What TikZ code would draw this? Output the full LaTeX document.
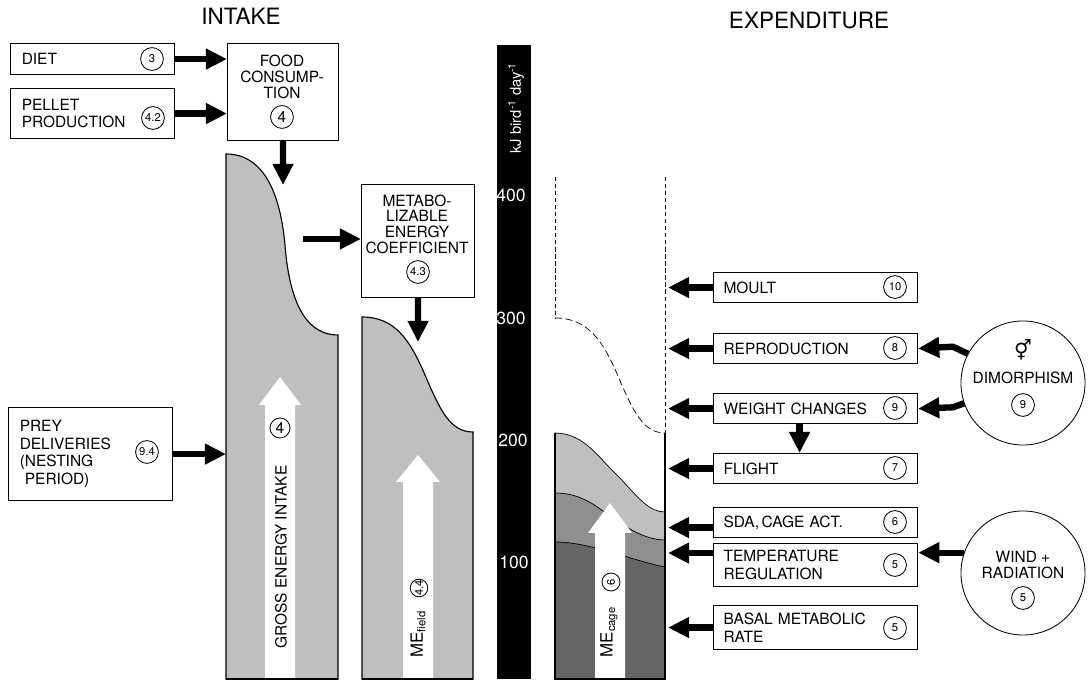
\documentclass[tikz,border=0pt]{standalone}
\usepackage{fontspec}
\setmainfont{TeX Gyre Heros}
\newfontfamily\symfont{DejaVu Sans}
\usepackage{xcolor}
\usetikzlibrary{arrows.meta}

\newcommand{\boxfont}{\fontsize{11}{12.5}\selectfont}
\newcommand{\ctrfont}{\fontsize{11}{11.2}\selectfont}
\newcommand{\numfont}{\fontsize{8}{8}\selectfont}
\newcommand{\bignumfont}{\fontsize{11}{11}\selectfont}
\newcommand{\titlefont}{\fontsize{16}{16}\selectfont}
\newcommand{\tickfont}{\fontsize{12.5}{12.5}\selectfont}

\definecolor{lightdots}{gray}{0.75}
\definecolor{middots}{gray}{0.56}
\definecolor{darkdots}{gray}{0.40}

\begin{document}
\begin{tikzpicture}[x=0.025cm, y=-0.025cm,
	box/.style={draw, line width=0.8pt, anchor=north west, inner xsep=0.28cm, inner ysep=0pt, align=left, font=\boxfont},
	lbox/.style={box, text width=3.54cm},
	rbox/.style={box, inner xsep=0.25cm, text width=4.6cm, minimum height=0.75cm},
	cbox/.style={draw, line width=0.8pt, anchor=north west, inner sep=0pt},
	num/.style={circle, draw, line width=0.6pt, minimum size=0.57cm, inner sep=0pt, font=\numfont},
	bignum/.style={num, font=\bignumfont},
	bigcirc/.style={circle, draw, line width=0.6pt, minimum size=3.1cm, inner sep=0pt},
	fat/.style={line width=4.5pt, -{Triangle[length=15pt,width=14pt]}},
	col/.style={line width=0.8pt},
	tick/.style={text=white, font=\tickfont}]

			\useasboundingbox (0,0) rectangle (1088,682);

			% Titles
			\node[font=\titlefont] (intake) at (241,16) {INTAKE};
			\node[font=\titlefont] (expend) at (809,21) {EXPENDITURE};

			% Intake boxes
			\node[lbox, minimum height=0.775cm] (diet) at (10,43) {DIET};
			\node[num] (dietnum) at (152,59) {3};
			\node[lbox, minimum height=1.25cm] (pellet) at (10,88) {PELLET\\PRODUCTION};
			\node[num] (pelletnum) at (153,118) {4.2};
			\node[lbox, minimum height=2.325cm] (prey) at (8,407) {PREY\\DELIVERIES\\(NESTING\\\phantom{(}PERIOD)};
			\node[num] (preynum) at (147,452) {9.4};

			\node[cbox, minimum width=2.775cm, minimum height=2.425cm] (food) at (227,43) {};
			\node[align=center, font=\ctrfont] (foodtxt) at (282,77) {FOOD\\CONSUMP-\\TION};
			\node[bignum] (foodnum) at (282,117) {4};

			\node[cbox, minimum width=2.825cm, minimum height=2.825cm] (metabo) at (361,184) {};
			\node[align=center, font=\ctrfont] (metabotxt) at (417,224) {METABO-\\LIZABLE\\ENERGY\\COEFFICIENT};
			\node[num] (metabonum) at (418,272) {4.3};

			% Columns: gross intake and field ME
			\filldraw[col, fill=lightdots] (226,679) -- (226,154) .. controls (262,154) and (280,190) .. (285,245)
				.. controls (290,310) and (310,335) .. (338,335) -- (338,679) -- cycle;
			\filldraw[col, fill=lightdots] (362,679) -- (362,317) .. controls (395,317) and (410,340) .. (425,375)
				.. controls (440,410) and (450,432) .. (473,432) -- (473,679) -- cycle;

			% Column: cage ME, three layers
			\filldraw[col, line width=0.5pt, fill=lightdots] (555,679) -- (555,433) .. controls (585,433) and (600,460) .. (620,478)
				.. controls (640,500) and (650,512) .. (665,512) -- (665,679) -- cycle;
			\filldraw[col, line width=0.5pt, fill=middots] (555,679) -- (555,493) .. controls (585,493) and (600,510) .. (617,521)
				.. controls (635,533) and (650,540) .. (665,540) -- (665,679) -- cycle;
			\filldraw[col, line width=0.5pt, fill=darkdots] (555,679) -- (555,542) .. controls (590,542) and (630,560) .. (665,567)
				-- (665,679) -- cycle;
			\draw[line width=0.5pt, dash pattern=on 5pt off 2.5pt] (555,318) .. controls (588,318) and (603,341) .. (618,376)
				.. controls (633,411) and (643,433) .. (665,433);
			\draw[line width=0.7pt, dash pattern=on 3pt off 2pt] (555,177) -- (555,318);
			\draw[line width=0.7pt, dash pattern=on 3pt off 2pt] (665,177) -- (665,433);

			% White arrows in the columns
			\fill[white] (265,679) -- (265,405) -- (259,405) -- (280,377) -- (301,405) -- (295,405) -- (295,679) -- cycle;
			\fill[white] (403,679) -- (403,482) -- (396,482) -- (418,455) -- (440,482) -- (433,482) -- (433,679) -- cycle;
			\fill[white] (595,679) -- (595,533) -- (588,533) -- (610,503) -- (632,533) -- (625,533) -- (625,679) -- cycle;

			% Column outlines
			\draw[col] (226,679) -- (338,679);
			\draw[col] (362,679) -- (473,679);
			\draw[col] (555,433) -- (555,679) -- (665,679) -- (665,433);

			\node[rotate=90, font=\boxfont] (gei) at (281,557) {GROSS ENERGY INTAKE};
			\node[bignum, minimum size=0.5cm] (geinum) at (280,428) {4};
			\node[rotate=90, font=\fontsize{12}{12}\selectfont] (mef) at (418,634) {ME\textsubscript{field}};
			\node[num, rotate=90, minimum size=0.43cm] (mefnum) at (419,588) {4.4};
			\node[rotate=90, font=\fontsize{12}{12}\selectfont] (mec) at (609,632) {ME\textsubscript{cage}};
			\node[num, rotate=90, minimum size=0.45cm] (mecnum) at (611,582) {6};

			% Energy scale
			\fill (497,45) rectangle (531,679);
			\node[rotate=90, text=white, font=\fontsize{10.5}{10.5}\selectfont] (unit) at (516,108) {kJ bird\textsuperscript{-1} day\textsuperscript{-1}};
			\node[tick] (t400) at (511,195) {400};
			\node[tick] (t300) at (511,318) {300};
			\node[tick] (t200) at (513,440) {200};
			\node[tick] (t100) at (514,562) {100};

			% Expenditure boxes
			\node[rbox] (moult) at (713,272) {MOULT};
			\node[num] (moultnum) at (895,287) {10};
			\node[rbox] (repro) at (713,333) {REPRODUCTION};
			\node[num] (repronum) at (895,348) {8};
			\node[rbox] (weight) at (713,393) {WEIGHT CHANGES};
			\node[num] (weightnum) at (895,408) {9};
			\node[rbox] (flight) at (713,453) {FLIGHT};
			\node[num] (flightnum) at (895,468) {7};
			\node[rbox] (sda) at (713,507) {SDA,\,CAGE ACT.};
			\node[num] (sdanum) at (895,522) {6};
			\node[rbox, minimum height=1.075cm] (temp) at (713,543) {TEMPERATURE\\REGULATION};
			\node[num] (tempnum) at (895,565) {5};
			\node[rbox, minimum height=1.1cm] (basal) at (713,605) {BASAL METABOLIC\\RATE};
			\node[num] (basalnum) at (895,628) {5};

			% Outside factors
			\node[bigcirc] (dimo) at (1023,383) {};
			\node[font=\fontsize{14}{14}\selectfont] (dimosym) at (1023,350) {\symfont ⚥};
			\node[font=\boxfont] (dimotxt) at (1023,378) {DIMORPHISM};
			\node[num] (dimonum) at (1023,405) {9};
			\node[bigcirc] (wind) at (1023,573) {};
			\node[align=center, font=\ctrfont] (windtxt) at (1023,565) {WIND +\\RADIATION};
			\node[num] (windnum) at (1023,598) {5};

			% Coordinates for arrow ends
			\coordinate (gtop) at (283,185);
			\coordinate (gleft) at (226,456);
			\coordinate (gflow) at (303,239);
			\coordinate (ftop) at (418,342);
			\coordinate (rim) at (668,0);

			% Intake arrows
			\draw[fat] (diet.east) -- (diet.east -| food.west);
			\draw[fat] (pellet.east) -- (pellet.east -| food.west);
			\draw[fat] (food.south) -- (gtop);
			\draw[fat] (gflow) -- (gflow -| metabo.west);
			\draw[fat] (metabo.south) -- (ftop);
			\draw[fat] (prey.east) -- (prey.east -| gleft);

			% Expenditure arrows
			\draw[fat] (moult.west) -- (moult.west -| rim);
			\draw[fat] (repro.west) -- (repro.west -| rim);
			\draw[fat] (weight.west) -- (weight.west -| rim);
			\draw[fat] (flight.west) -- (flight.west -| rim);
			\draw[fat] ([yshift=-0.125cm]sda.west) -- ([yshift=-0.125cm]sda.west -| rim);
			\draw[fat] ([yshift=0.3cm]temp.west) -- ([yshift=0.3cm]temp.west -| rim);
			\draw[fat] (basal.west) -- (basal.west -| rim);
			\draw[fat] ([xshift=-0.4cm]weight.south) -- ([xshift=-0.4cm]flight.north);

			% Arrows from outside factors
			\draw[fat, line join=round] (dimo.152) -- ++(-15,-7) -- (repro.east);
			\draw[fat, line join=round] (dimo.199) -- ++(-11,4) -- (weight.east);
			\draw[fat] (wind.161) -- (wind.161 -| temp.east);
		\end{tikzpicture}
\end{document}
